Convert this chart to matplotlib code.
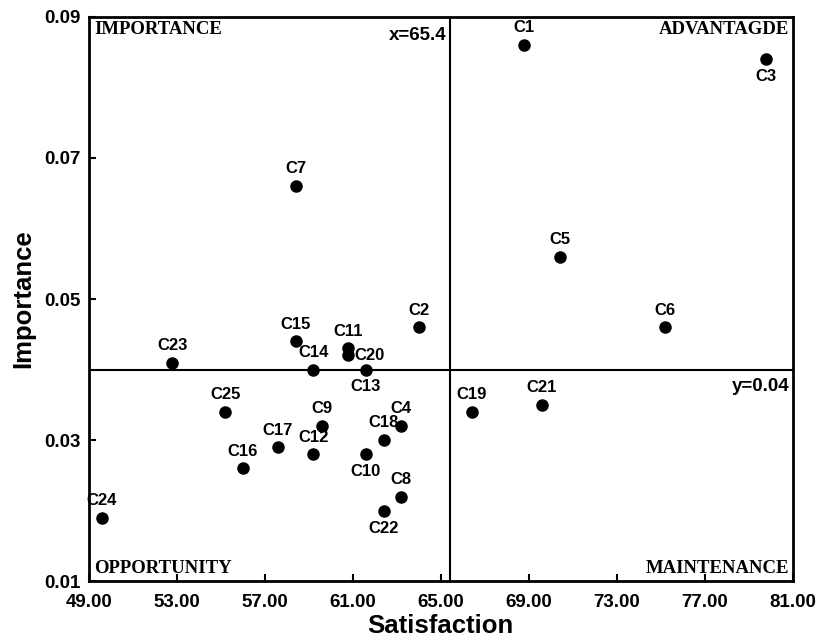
import matplotlib
matplotlib.use("Agg")
import matplotlib.pyplot as plt

# satisfaction / importance for each item
labels = ["C1", "C2", "C3", "C4", "C5", "C6", "C7", "C8", "C9", "C10",
          "C11", "C12", "C13", "C14", "C15", "C16", "C17", "C18", "C19", "C20",
          "C21", "C22", "C23", "C24", "C25"]
satisfaction = [68.8, 64.0, 79.8, 63.2, 70.4, 75.2, 58.4, 63.2, 59.6, 61.6,
                60.8, 59.2, 61.6, 59.2, 58.4, 56.0, 57.6, 62.4, 66.4, 60.8,
                69.6, 62.4, 52.8, 49.6, 55.2]
importance = [0.086, 0.046, 0.084, 0.032, 0.056, 0.046, 0.066, 0.022, 0.032, 0.028,
              0.043, 0.028, 0.040, 0.040, 0.044, 0.026, 0.029, 0.030, 0.034, 0.042,
              0.035, 0.020, 0.041, 0.019, 0.034]

x_mean = 65.4
y_mean = 0.04
x_ticks = [49, 53, 57, 61, 65, 69, 73, 77, 81]
y_ticks = [0.01, 0.03, 0.05, 0.07, 0.09]

# labels drawn under the dot / to the right
below = {"C3", "C13", "C10", "C22"}
right = {"C20"}

sans = ["Liberation Sans", "DejaVu Sans"]
serif = ["Liberation Serif", "DejaVu Serif"]

fig = plt.figure(figsize=(8.17, 6.42), dpi=100)
ax = fig.add_axes([0.1086, 0.0944, 0.8617, 0.8797])

ax.scatter(satisfaction, importance, s=64, color="black", zorder=3)

for lab, x, y in zip(labels, satisfaction, importance):
    if lab in below:
        ax.annotate(lab, (x, y), xytext=(0, -7), textcoords="offset points",
                    ha="center", va="top", fontsize=12, fontweight="bold", family=sans)
    elif lab in right:
        ax.annotate(lab, (x, y), xytext=(4, 0), textcoords="offset points",
                    ha="left", va="center", fontsize=12, fontweight="bold", family=sans)
    else:
        ax.annotate(lab, (x, y), xytext=(0, 7), textcoords="offset points",
                    ha="center", va="bottom", fontsize=12, fontweight="bold", family=sans)

ax.axvline(x_mean, color="black", lw=1.5, zorder=2)
ax.axhline(y_mean, color="black", lw=1.5, zorder=2)

ax.text(x_mean - 0.12, 0.0886, "x=65.4", ha="right", va="top",
        fontsize=13.5, fontweight="bold", family=sans)
ax.text(80.85, y_mean - 0.0012, "y=0.04", ha="right", va="top",
        fontsize=13.5, fontweight="bold", family=sans)

ax.text(0.008, 0.993, "IMPORTANCE", transform=ax.transAxes, ha="left", va="top",
        fontsize=13.5, fontweight="bold", family=serif)
ax.text(0.995, 0.993, "ADVANTAGDE", transform=ax.transAxes, ha="right", va="top",
        fontsize=13.5, fontweight="bold", family=serif)
ax.text(0.008, 0.008, "OPPORTUNITY", transform=ax.transAxes, ha="left", va="bottom",
        fontsize=13.5, fontweight="bold", family=serif)
ax.text(0.995, 0.008, "MAINTENANCE", transform=ax.transAxes, ha="right", va="bottom",
        fontsize=13.5, fontweight="bold", family=serif)

ax.set_xlim(49, 81)
ax.set_ylim(0.01, 0.09)
ax.set_xticks(x_ticks)
ax.set_xticklabels([f"{t:.2f}" for t in x_ticks])
ax.set_yticks(y_ticks)
ax.set_yticklabels([f"{t:.2f}" for t in y_ticks])
ax.tick_params(direction="in", length=5, width=1.5)
ax.tick_params(axis="x", pad=9)
ax.tick_params(axis="y", pad=6)
for lab in ax.get_xticklabels() + ax.get_yticklabels():
    lab.set_fontweight("bold")
    lab.set_fontsize(13.5)
    lab.set_family(sans)

for sp in ax.spines.values():
    sp.set_linewidth(2)

ax.set_xlabel("Satisfaction", fontsize=18.5, fontweight="bold", family=sans, labelpad=2)
ax.set_ylabel("Importance", fontsize=18.5, fontweight="bold", family=sans, labelpad=6)

fig.savefig("out.png", dpi=100)
